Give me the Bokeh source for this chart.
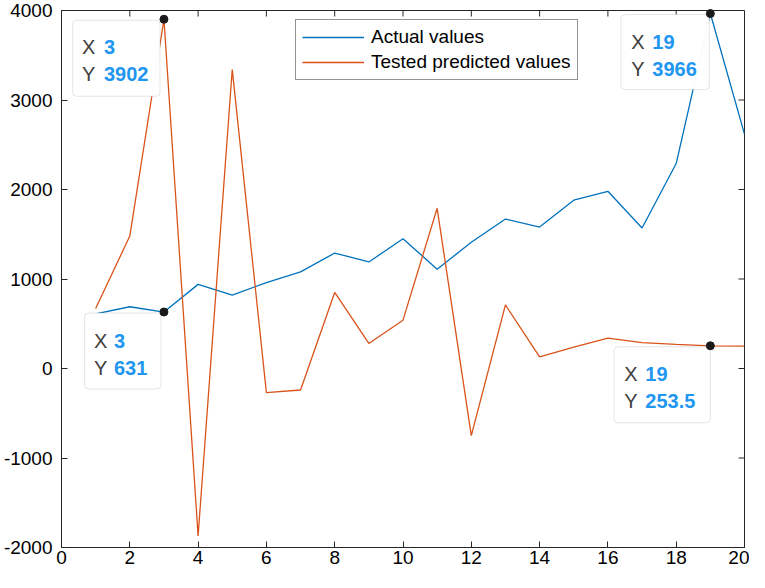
import math
from bokeh.plotting import figure
from bokeh.models import Range1d, FixedTicker, BoxAnnotation, Label
from bokeh.embed import file_html
from bokeh.resources import INLINE

# ---------------- data ----------------
x_values = list(range(1, 21))
actual_values = [610, 690, 631, 940, 820, 960, 1080, 1290, 1190, 1450,
                 1110, 1410, 1670, 1580, 1880, 1980, 1570, 2290, 3966, 2620]
predicted_values = [670, 1480, 3902, -1870, 3340, -270, -240, 850, 280, 540,
                    1790, -750, 710, 130, 240, 340, 290, 270, 253.5, 250]
series_labels = ["Actual values", "Tested predicted values"]

x_ticks = [0, 2, 4, 6, 8, 10, 12, 14, 16, 18, 20]
y_ticks = [-2000, -1000, 0, 1000, 2000, 3000, 4000]
y_tick_labels = ["-2000", "-1000", "0", "1000", "2000", "3000", "4000"]

tip_x = [3, 3, 19, 19]
tip_y = [3902, 631, 3966, 253.5]

# ---------------- layout ----------------
W, H = 749, 572
BL, BR, BT, BB = 56, 5, 10, 25
X0, X1, Y0, Y1 = 0, 20, -2000, 4000
frame_w = W - BL - BR
frame_h = H - BT - BB
pxx = frame_w / (X1 - X0)
pxy = frame_h / (Y1 - Y0)

AX = "#262626"
BLUE = "#0072BD"
ORANGE = "#D95319"
FONT = "Liberation Sans"
TICK = 6

p = figure(width=W, height=H, output_backend="svg", toolbar_location=None,
           x_range=Range1d(X0, X1), y_range=Range1d(Y0, Y1),
           min_border_left=BL, min_border_right=BR,
           min_border_top=BT, min_border_bottom=BB,
           background_fill_color="white", border_fill_color="white")
p.grid.visible = False
p.outline_line_color = AX
p.outline_line_width = 1

for ax in (p.xaxis[0], p.yaxis[0]):
    ax.axis_line_color = AX
    ax.axis_line_width = 1
    ax.major_tick_line_color = AX
    ax.major_tick_line_width = 1
    ax.major_tick_in = TICK
    ax.major_tick_out = 0
    ax.minor_tick_line_color = None
    ax.major_label_text_font = FONT
    ax.major_label_text_font_size = "19px"
    ax.major_label_text_color = "black"
p.xaxis.major_label_standoff = 3
p.yaxis.major_label_standoff = 9
p.xaxis.ticker = FixedTicker(ticks=x_ticks)
p.yaxis.ticker = FixedTicker(ticks=y_ticks)
p.yaxis.major_label_overrides = {t: s for t, s in zip(y_ticks, y_tick_labels)}

# inward ticks on the top and right edges of the box
p.ray(x=x_ticks, y=[Y1] * len(x_ticks), length=TICK, length_units="screen",
      angle=-math.pi / 2, line_color=AX, line_width=1)
p.ray(x=[X1] * len(y_ticks), y=y_ticks, length=TICK, length_units="screen",
      angle=math.pi, line_color=AX, line_width=1)

# ---------------- lines ----------------
p.line(x_values, actual_values, line_color=BLUE, line_width=1.3,
       legend_label=series_labels[0])
p.line(x_values, predicted_values, line_color=ORANGE, line_width=1.3,
       legend_label=series_labels[1])

lg = p.legend[0]
lg.location = (234, 467)
lg.label_text_font = FONT
lg.label_text_font_size = "19px"
lg.label_text_color = "black"
lg.glyph_width = 62
lg.glyph_height = 20
lg.label_height = 20
lg.label_standoff = 7
lg.padding = 6
lg.spacing = 3
lg.margin = 0
lg.border_line_color = AX
lg.border_line_width = 1
lg.background_fill_color = "white"
lg.background_fill_alpha = 1

# ---------------- data tips ----------------
# per tip (pixel offsets from the point; right/down positive):
# box left, box right, box top, box bottom, label dx, value dx, row1 dy, row2 dy
tip_layout = [
    (-92, -4, 1, 77, -82, -60, 28, 55),
    (-80, -3, 1, 77, -70, -50, 29, 56),
    (-90, -1, 1, 76, -79, -58, 28, 55),
    (-97, 0, 1, 77, -86, -65, 28, 55),
]


def fmt(v):
    return "%g" % v


for tx, ty, lay in zip(tip_x, tip_y, tip_layout):
    bl, br, bt, bb, ldx, vdx, r1, r2 = lay
    box = BoxAnnotation(left=tx + bl / pxx, right=tx + br / pxx,
                        top=ty - bt / pxy, bottom=ty - bb / pxy,
                        fill_color="white", fill_alpha=0.97,
                        line_color="#a8a8a8", line_width=1, border_radius=4)
    p.add_layout(box)
    for name, val, dy in (("X", fmt(tx), r1), ("Y", fmt(ty), r2)):
        p.add_layout(Label(x=tx, y=ty, x_offset=ldx, y_offset=-dy, text=name,
                           text_font=FONT, text_font_size="20px",
                           text_color="#404040", text_baseline="middle",
                           text_align="left"))
        p.add_layout(Label(x=tx, y=ty, x_offset=vdx, y_offset=-dy, text=val,
                           text_font=FONT, text_font_size="20px",
                           text_font_style="bold",
                           text_color="#1f96f0", text_baseline="middle",
                           text_align="left"))

dots = p.scatter(tip_x, tip_y, size=8, fill_color="#1a1a1a",
                 line_color="#1a1a1a")
dots.level = "overlay"

open("out.html", "w").write(file_html(p, INLINE))
